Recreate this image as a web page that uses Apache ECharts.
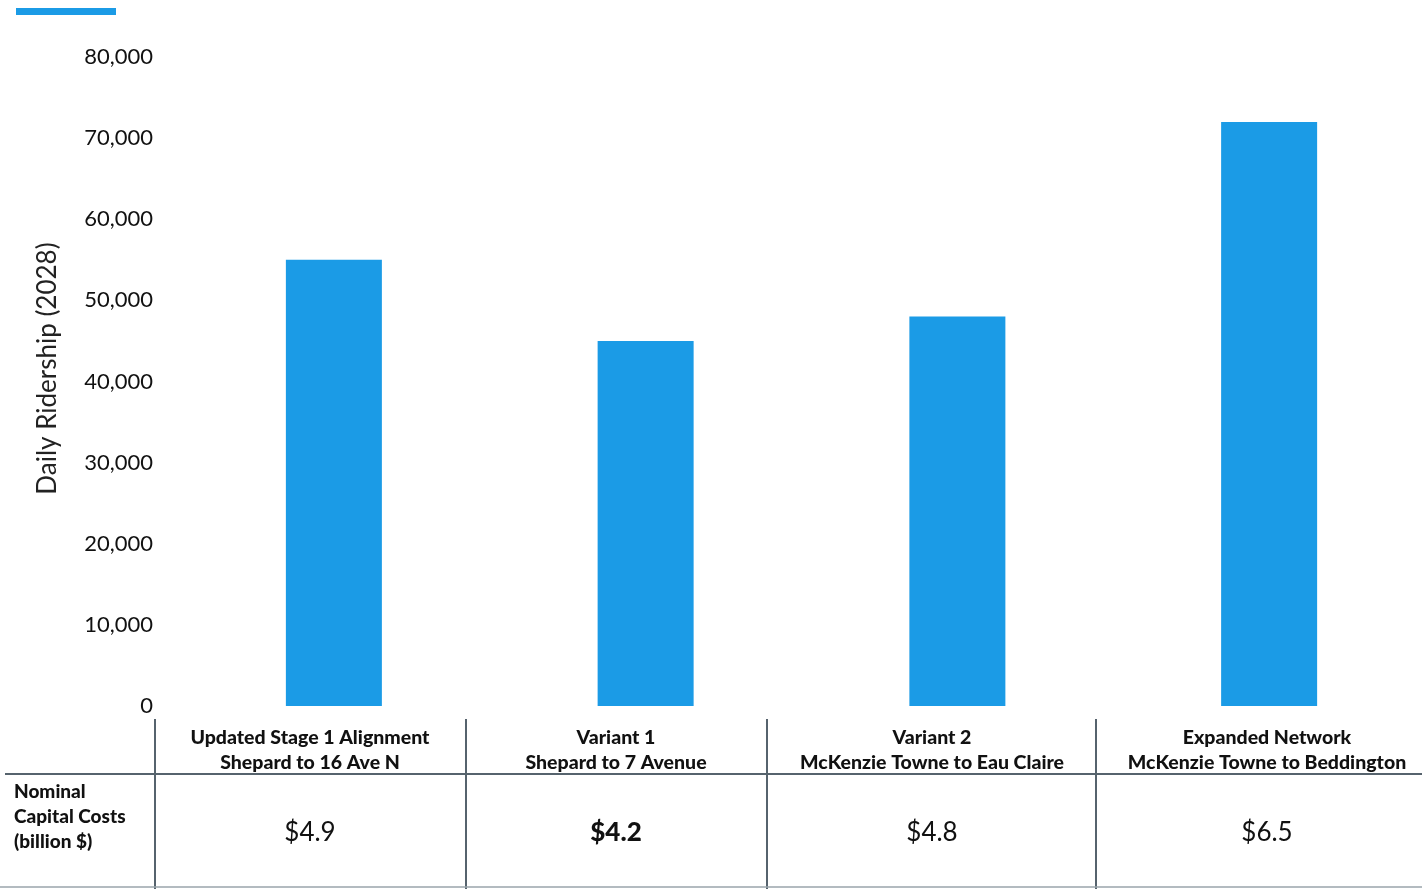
<!DOCTYPE html>
<html>
<head>
<meta charset="utf-8">
<script src="https://cdn.jsdelivr.net/npm/echarts@6/dist/echarts.min.js"></script>
<style>html,body{margin:0;padding:0;background:#fff;}#chart{width:1422px;height:889px;}</style>
</head>
<body>
<div id="chart"></div>
<script>
const categoryTitles = ["Updated Stage 1 Alignment", "Variant 1", "Variant 2", "Expanded Network"];
const categorySubtitles = ["Shepard to 16 Ave N", "Shepard to 7 Avenue", "McKenzie Towne to Eau Claire", "McKenzie Towne to Beddington"];
const ridership = [55000, 45000, 48000, 72000];
const capitalCosts = ["$4.9", "$4.2", "$4.8", "$6.5"];
const costRowLabel = ["Nominal", "Capital Costs", "(billion $)"];
const yTicks = [0, 10000, 20000, 30000, 40000, 50000, 60000, 70000, 80000];
const seriesName = "Daily Ridership (2028)";

const FONT = "Lato";
const BLUE = "#1b9be6";
const LINE = "#56636d";
const cellCenters = [310, 616, 932, 1267];
const vLines = [155, 466, 767, 1096];

const chart = echarts.init(document.getElementById('chart'));
const graphics = [];
vLines.forEach(x => graphics.push({type:'line', shape:{x1:x,y1:719,x2:x,y2:889}, style:{stroke:LINE, lineWidth:2}}));
graphics.push({type:'line', shape:{x1:5,y1:774,x2:1422,y2:774}, style:{stroke:LINE, lineWidth:2}});
graphics.push({type:'line', shape:{x1:0,y1:887,x2:1422,y2:887}, style:{stroke:'#9aa4ab', lineWidth:1.5}});
categoryTitles.forEach((t,i) => {
  graphics.push({type:'text', x:cellCenters[i], y:738, style:{text:t, font:`900 19.5px ${FONT}`, fill:'#111', align:'center', verticalAlign:'middle'}});
  graphics.push({type:'text', x:cellCenters[i], y:763, style:{text:categorySubtitles[i], font:`900 19.5px ${FONT}`, fill:'#111', align:'center', verticalAlign:'middle'}});
  graphics.push({type:'text', x:cellCenters[i], y:833, style:{text:capitalCosts[i], font:`${i===1?'900 ':''}26px ${FONT}`, fill:'#111', align:'center', verticalAlign:'middle'}});
});
costRowLabel.forEach((t,i) => {
  graphics.push({type:'text', x:14, y:792 + i*25, style:{text:t, font:`900 19px ${FONT}`, fill:'#111', align:'left', verticalAlign:'middle'}});
});

chart.setOption({
  animation: false,
  backgroundColor: '#fff',
  legend: {
    left: 16, top: 8, padding: 0, itemWidth: 100, itemHeight: 7, icon: 'rect',
    data: [seriesName], formatter: () => '', selectedMode: false, itemGap: 0
  },
  grid: {left: 178, top: 57, width: 1247, height: 649, containLabel: false, outerBoundsMode: 'none'},
  xAxis: {
    type: 'category', data: categoryTitles,
    axisLine: {show: false}, axisTick: {show: false}, axisLabel: {show: false}
  },
  yAxis: {
    type: 'value', min: yTicks[0], max: yTicks[yTicks.length-1], interval: yTicks[1]-yTicks[0],
    name: seriesName, nameLocation: 'middle', nameGap: 117, nameRotate: 90,
    nameTextStyle: {fontFamily: FONT, fontSize: 26, color: '#222', padding: [0, 0, 0, 26]},
    axisLine: {show: false}, axisTick: {show: false}, splitLine: {show: false},
    axisLabel: {
      fontFamily: FONT, fontSize: 22, color: '#111', margin: 25,
      formatter: v => v.toLocaleString('en-US')
    }
  },
  series: [{
    name: seriesName, type: 'bar', data: ridership, barWidth: 96,
    itemStyle: {color: BLUE}
  }],
  graphic: graphics
});
</script>
</body>
</html>
